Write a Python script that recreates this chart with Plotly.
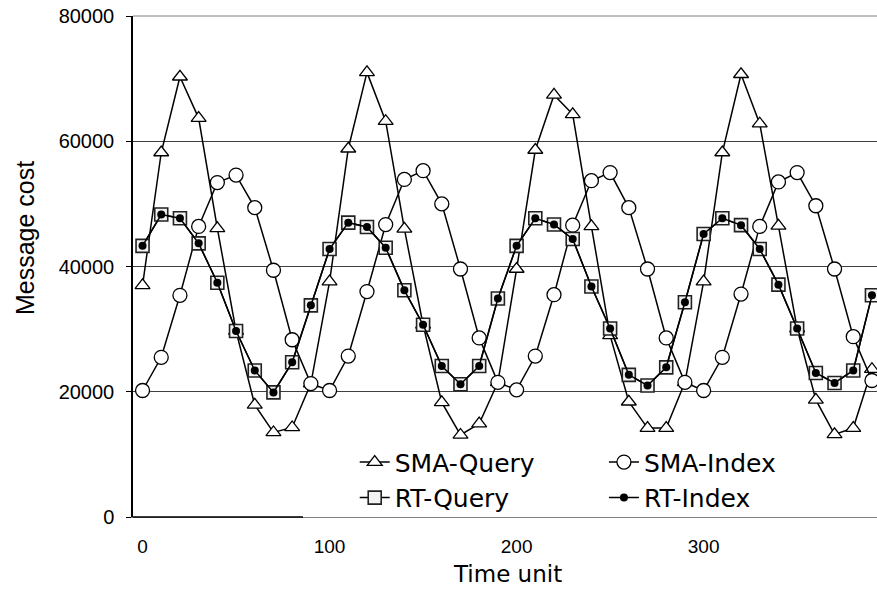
import plotly.graph_objects as go

time_unit = list(range(0, 400, 10))

sma_query = [37000, 58200, 70300, 63700, 46100, 29700, 17900, 13500, 14300, 21300,
             37600, 58800, 71000, 63200, 46000, 30700, 18300, 13100, 14900, 21500,
             39600, 58600, 67400, 64300, 46400, 29000, 18400, 14200, 14200, 21500,
             37600, 58200, 70700, 62800, 46500, 30100, 18700, 13200, 14200, 23600]

sma_index = [20200, 25500, 35400, 46400, 53400, 54600, 49400, 39400, 28300, 21300,
             20200, 25700, 36000, 46700, 53900, 55300, 50000, 39600, 28600, 21500,
             20300, 25700, 35500, 46600, 53700, 55000, 49400, 39600, 28600, 21500,
             20200, 25500, 35600, 46400, 53500, 55000, 49700, 39600, 28800, 21800]

rt_query = [43300, 48300, 47700, 43700, 37400, 29700, 23400, 19900, 24700, 33800,
            42800, 47000, 46300, 43000, 36200, 30700, 24100, 21200, 24100, 34900,
            43300, 47700, 46700, 44400, 36800, 30100, 22700, 21000, 23900, 34300,
            45200, 47700, 46600, 42800, 37100, 30100, 23000, 21400, 23400, 35400]

rt_index = [43300, 48300, 47700, 43700, 37400, 29700, 23400, 19900, 24700, 33800,
            42800, 47000, 46300, 43000, 36200, 30700, 24100, 21200, 24100, 34900,
            43300, 47700, 46700, 44400, 36800, 30100, 22700, 21000, 23900, 34300,
            45200, 47700, 46600, 42800, 37100, 30100, 23000, 21400, 23400, 35400]

x_ticks = [0, 100, 200, 300]
y_ticks = [0, 20000, 40000, 60000, 80000]

LINE = dict(color="black", width=1.5)
DEJAVU = "DejaVu Sans, sans-serif"
ARIAL = "Liberation Sans, Arial, sans-serif"
LEG_FONT = dict(family=DEJAVU, size=25, color="black")

fig = go.Figure()
fig.add_trace(go.Scatter(x=time_unit, y=sma_query, name="SMA-Query", mode="lines+markers",
                         line=LINE, legend="legend",
                         marker=dict(symbol="triangle-up", size=13, color="white",
                                     line=dict(color="black", width=1.3))))
fig.add_trace(go.Scatter(x=time_unit, y=sma_index, name="SMA-Index", mode="lines+markers",
                         line=LINE, legend="legend2",
                         marker=dict(symbol="circle", size=14, color="white",
                                     line=dict(color="black", width=1.3))))
fig.add_trace(go.Scatter(x=time_unit, y=rt_query, name="RT-Query", mode="lines+markers",
                         line=LINE, legend="legend",
                         marker=dict(symbol="square", size=13, color="#f2f2f2",
                                     line=dict(color="#222222", width=1.6))))
fig.add_trace(go.Scatter(x=time_unit, y=rt_index, name="RT-Index", mode="lines+markers",
                         line=LINE, legend="legend2",
                         marker=dict(symbol="circle", size=8, color="black",
                                     line=dict(color="black", width=0))))

fig.update_layout(
    width=877, height=589,
    margin=dict(l=133, r=0, t=16, b=72),
    paper_bgcolor="white", plot_bgcolor="white",
    showlegend=True,
    legend=dict(orientation="v", x=0.298, xanchor="left", y=0.155, yanchor="top",
                font=LEG_FONT, bgcolor="rgba(0,0,0,0)", tracegroupgap=0,
                traceorder="normal"),
    legend2=dict(orientation="v", x=0.633, xanchor="left", y=0.155, yanchor="top",
                 font=LEG_FONT, bgcolor="rgba(0,0,0,0)", tracegroupgap=0,
                 traceorder="normal"),
    xaxis=dict(range=[-5.1, 392.7], tickvals=x_ticks, ticktext=[str(v) for v in x_ticks],
               showgrid=False, zeroline=False, showline=True, linecolor="#808080", linewidth=1,
               mirror=False, ticks="", ticklabelstandoff=12,
               tickfont=dict(family=ARIAL, size=19, color="black")),
    yaxis=dict(range=[0, 80000], tickvals=y_ticks, ticktext=[str(v) for v in y_ticks],
               showgrid=True, gridcolor="#404040", gridwidth=1, zeroline=False,
               showline=True, linecolor="black", linewidth=1.5,
               ticks="outside", ticklen=5, tickcolor="black", ticklabelstandoff=8,
               tickfont=dict(family=ARIAL, size=20, color="black")),
    annotations=[
        dict(text="Message cost", xref="paper", yref="paper", x=-0.145, y=0.557,
             xanchor="center", yanchor="middle", textangle=-90, showarrow=False,
             font=dict(family=ARIAL, size=25, color="black")),
        dict(text="Time unit", xref="paper", yref="paper", x=0.504, y=-0.1145,
             xanchor="center", yanchor="middle", showarrow=False,
             font=dict(family=DEJAVU, size=23, color="black")),
    ],
    shapes=[
        dict(type="line", xref="paper", yref="paper", x0=0, x1=1, y0=1, y1=1,
             line=dict(color="#808080", width=1)),
        dict(type="line", xref="paper", yref="paper", x0=0, x1=0.2285, y0=0, y1=0,
             line=dict(color="black", width=1.5)),
    ],
)

fig.write_html("out.html")
